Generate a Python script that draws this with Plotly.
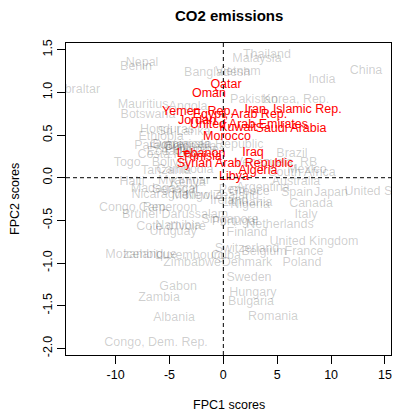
import plotly.graph_objects as go

# FPC scores per country (x = FPC1, y = FPC2)
other_countries = [
    "Nepal", "Benin", "Bangladesh", "Vietnam", "Malaysia", "Thailand", "China", "India",
    "Gibraltar", "Pakistan", "Korea, Rep.", "Mauritius", "Angola", "Botswana", "Honduras",
    "Sri Lanka", "Ethiopia", "Dominican Republic", "Guatemala", "Paraguay", "Colombia",
    "Costa Rica", "Togo", "Bolivia", "Tanzania", "Cambodia", "Haiti", "Kenya", "Myanmar",
    "Madagascar", "Senegal", "Nicaragua", "Mongolia", "New Zealand", "Peru", "Argentina",
    "Greece", "Spain", "Japan", "United States", "Australia", "Brazil", "Venezuela, RB",
    "Mexico", "South Africa", "Ireland", "Lithuania", "Nigeria", "Canada", "Congo, Rep.",
    "Cameroon", "Brunei Darussalam", "Cote d'Ivoire", "Namibia", "Uruguay", "Italy",
    "Netherlands", "Portugal", "Singapore", "Finland", "United Kingdom", "Switzerland",
    "Belgium", "France", "Cuba", "Denmark", "Poland", "Sweden", "Hungary", "Bulgaria",
    "Romania", "Mozambique", "Iceland", "Luxembourg", "Zimbabwe", "Gabon", "Zambia",
    "Albania", "Congo, Dem. Rep.", "Philippines", "Ecuador",
]
other_fpc1 = [
    -7.54, -8.10, -0.58, 1.36, 3.12, 4.05, 13.24, 9.15,
    -13.66, 2.85, 6.74, -7.45, -3.27, -6.99, -5.22,
    -3.65, -5.78, -1.42, -4.02, -5.78, -3.09,
    -5.13, -8.92, -4.94, -5.31, -3.55, -8.47, -3.27, -3.65,
    -5.40, -4.48, -5.87, -2.44, -0.12, 0.81, 3.68,
    2.41, 6.84, 9.99, 14.72, 6.74, 6.37, 4.89,
    7.76, 7.30, 0.53, 2.20, 2.48, 8.14, -8.29,
    -5.13, -4.48, -4.85, -4.20, -4.66, 7.67,
    5.26, 1.09, 0.62, 2.20, 8.41, 2.20,
    3.78, 7.49, 0.25, 2.20, 7.30, 2.38, 2.75, 2.57,
    4.61, -7.63, -7.45, -3.09, -2.90, -4.20, -5.97,
    -4.57, -6.24, -2.63, -4.94,
]
other_fpc2 = [
    1.345, 1.298, 1.227, 1.239, 1.392, 1.438, 1.251, 1.145,
    1.029, 0.911, 0.911, 0.852, 0.829, 0.735, 0.559,
    0.536, 0.477, 0.383, 0.383, 0.372, 0.360,
    0.266, 0.172, 0.172, 0.078, 0.090, -0.050, -0.062, -0.040,
    -0.133, -0.144, -0.203, -0.215, -0.215, -0.144, -0.121,
    -0.168, -0.179, -0.179, -0.168, -0.050, 0.278, 0.172,
    0.090, 0.055, -0.273, -0.297, -0.320, -0.309, -0.355,
    -0.355, -0.437, -0.578, -0.566, -0.637, -0.437,
    -0.555, -0.519, -0.496, -0.648, -0.754, -0.836,
    -0.871, -0.871, -0.918, -1.000, -1.000, -1.176, -1.351, -1.457,
    -1.633, -0.906, -0.906, -0.918, -1.000, -1.282, -1.410,
    -1.645, -1.938, 0.325, 0.300,
]

# Middle East and North Africa, highlighted in red
mena_countries = [
    "Qatar", "Oman", "Yemen, Rep.", "Egypt, Arab Rep.", "Iran, Islamic Rep.", "Jordan",
    "United Arab Emirates", "Kuwait", "Saudi Arabia", "Morocco", "Lebanon", "Tunisia",
    "Iraq", "Syrian Arab Republic", "Algeria", "Libya",
]
mena_fpc1 = [0.25, -1.33, -2.35, 1.55, 6.47, -2.44, 2.38, 1.36, 6.28, 0.34, -2.07, -1.98,
             2.76, 1.09, 3.22, 0.99]
mena_fpc2 = [1.087, 0.981, 0.771, 0.733, 0.794, 0.665, 0.617, 0.583, 0.571, 0.477, 0.278,
             0.243, 0.290, 0.161, 0.079, 0.008]

x_ticks = [-10, -5, 0, 5, 10, 15]
y_ticks = [-2.0, -1.5, -1.0, -0.5, 0.0, 0.5, 1.0, 1.5]

FONT = "Liberation Sans, Arial, Helvetica, sans-serif"

fig = go.Figure()
fig.add_trace(go.Scatter(
    x=other_fpc1, y=other_fpc2, text=other_countries, mode="text",
    textposition="middle center",
    textfont=dict(family=FONT, size=12.5, color="rgba(0,0,0,0.2)"),
    hoverinfo="text", cliponaxis=True,
))
fig.add_trace(go.Scatter(
    x=mena_fpc1, y=mena_fpc2, text=mena_countries, mode="text",
    textposition="middle center",
    textfont=dict(family=FONT, size=12.5, color="#ff0000"),
    hoverinfo="text", cliponaxis=True,
))

# dashed reference lines through the origin
fig.add_shape(type="line", xref="x", yref="paper", x0=0, x1=0, y0=0, y1=1,
              line=dict(color="black", width=1, dash="4px,3px"))
fig.add_shape(type="line", xref="paper", yref="y", x0=0, x1=1, y0=0, y1=0,
              line=dict(color="black", width=1, dash="4px,3px"))

axis_common = dict(
    showgrid=False, zeroline=False, showline=True, mirror=True,
    linecolor="black", linewidth=1, ticks="outside", ticklen=8,
    tickcolor="black", tickwidth=1,
    tickfont=dict(family=FONT, size=12.5, color="black"),
)
fig.update_xaxes(range=[-14.6, 15.56], tickmode="array", tickvals=x_ticks,
                 ticktext=[str(v) for v in x_ticks], **axis_common)
fig.update_yaxes(range=[-2.078, 1.579], tickmode="array", tickvals=y_ticks,
                 ticktext=[f"{v:.1f}" for v in y_ticks], tickangle=-90, **axis_common)

fig.update_layout(
    width=394, height=411,
    margin=dict(l=66, r=3, t=43, b=56, pad=0),
    paper_bgcolor="white", plot_bgcolor="white",
    showlegend=False,
    font=dict(family=FONT, color="black"),
    annotations=[
        dict(text="<b>CO2 emissions</b>", xref="paper", yref="paper", x=0.5, y=1,
             xanchor="center", yanchor="middle", yshift=28, showarrow=False,
             font=dict(family=FONT, size=15, color="black")),
        dict(text="FPC1 scores", xref="paper", yref="paper", x=0.5, y=0,
             xanchor="center", yanchor="middle", yshift=-50, showarrow=False,
             font=dict(family=FONT, size=12.5, color="black")),
        dict(text="FPC2 scores", xref="paper", yref="paper", x=0, y=0.5,
             xanchor="center", yanchor="middle", xshift=-51, textangle=-90,
             showarrow=False, font=dict(family=FONT, size=12.5, color="black")),
    ],
)

fig.write_html("out.html")
